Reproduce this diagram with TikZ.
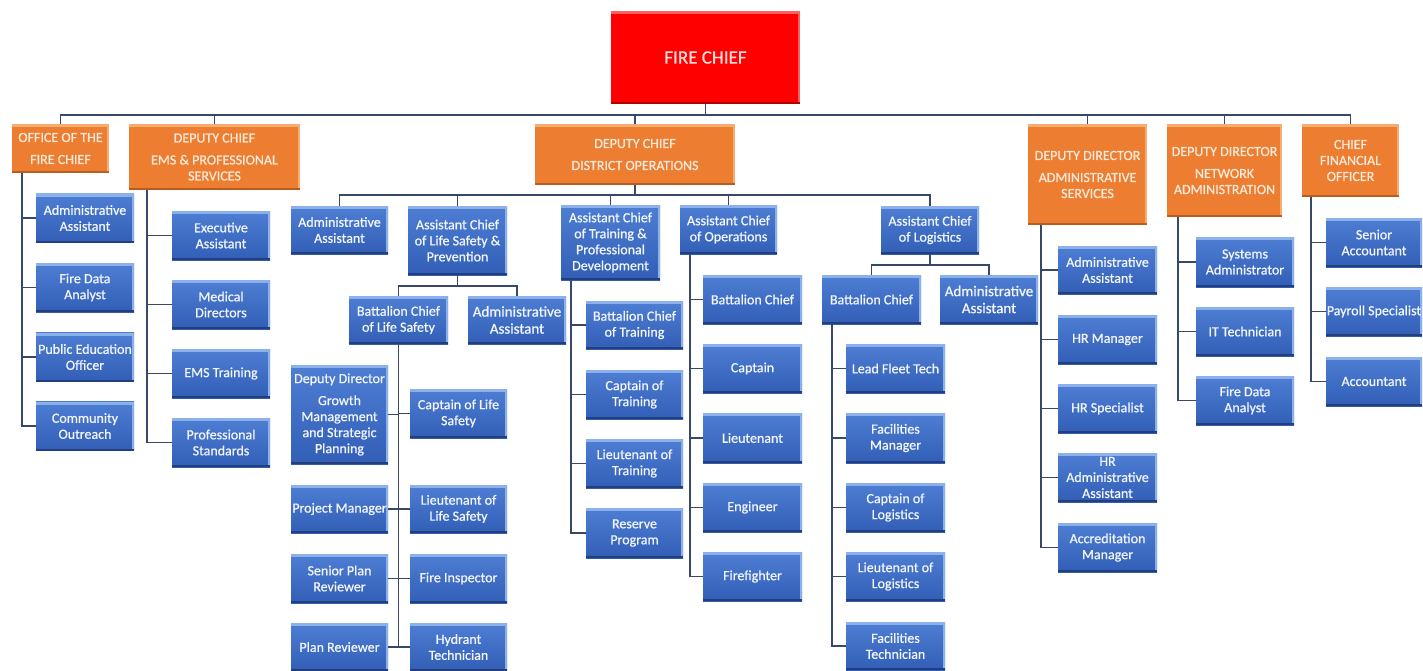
\documentclass[tikz,border=0pt]{standalone}
\usepackage{fontspec}
\setmainfont{Carlito}
\newfontfamily\boxfont{Carlito}[FakeBold=0.7]
\definecolor{lineC}{RGB}{55,72,105}
\definecolor{blTop}{RGB}{78,126,212}
\definecolor{blBot}{RGB}{50,94,182}
\definecolor{blHi}{RGB}{140,176,234}
\definecolor{blDk}{RGB}{34,62,124}
\definecolor{blT}{RGB}{242,246,252}
\definecolor{orF}{RGB}{237,125,49}
\definecolor{orHi}{RGB}{247,172,112}
\definecolor{orDk}{RGB}{186,92,30}
\definecolor{orT}{RGB}{253,234,218}
\definecolor{rdF}{RGB}{255,0,0}
\definecolor{rdHi}{RGB}{255,96,96}
\definecolor{rdDk}{RGB}{176,0,0}
\definecolor{rdT}{RGB}{255,222,222}
\begin{document}
\begin{tikzpicture}[x=1pt,y=-1pt,
  ln/.style={draw=lineC, line width=1.6pt},
  bevel/.style 2 args={path picture={
    \fill[#1] (path picture bounding box.north west) rectangle ([yshift=-3pt]path picture bounding box.north east);
    \fill[#1] ([xshift=-2pt]path picture bounding box.north east) rectangle (path picture bounding box.south east);
    \fill[#2] ([yshift=2pt]path picture bounding box.south west) rectangle (path picture bounding box.south east);
  }},
  sz/.style 2 args={minimum width=#1pt, minimum height=#2pt},
  redbox/.style={rectangle, fill=rdF, bevel={rdHi}{rdDk}, text=rdT, align=center,
    inner sep=0pt, font=\boxfont\fontsize{19}{22}\selectfont},
  orbox/.style={rectangle, fill=orF, bevel={orHi}{orDk}, text=orT, align=center,
    inner sep=0pt, font=\boxfont\fontsize{14}{16}\selectfont},
  bluebox/.style={rectangle, top color=blTop, bottom color=blBot, bevel={blHi}{blDk},
    text=blT, align=center, inner sep=0pt, minimum width=98pt, minimum height=49pt,
    font=\boxfont\fontsize{14}{16}\selectfont},
  bigtext/.style={font=\boxfont\fontsize{15}{17}\selectfont}
]
\useasboundingbox (0,0) rectangle (1423,671);
\fill[white] (0,0) rectangle (1423,671);

% ---- top level
\node[redbox, sz={189}{93}] (fc) at (705.5,57.5) {FIRE CHIEF};

% ---- directors
\node[orbox, sz={97}{49}]  (ofc)  at (60.5,148.5)  {OFFICE OF THE\\[6pt]FIRE CHIEF};
\node[orbox, sz={171}{66}] (ems)  at (214.5,157)   {DEPUTY CHIEF\\[6pt]EMS \& PROFESSIONAL\\SERVICES};
\node[orbox, sz={200}{61}] (dops) at (635,154.5)   {DEPUTY CHIEF\\[6pt]DISTRICT OPERATIONS};
\node[orbox, sz={119}{101}](das)  at (1087.5,174.5){DEPUTY DIRECTOR\\[6pt]ADMINISTRATIVE\\SERVICES};
\node[orbox, sz={115}{93}] (dna)  at (1224.5,170.5){DEPUTY DIRECTOR\\[6pt]NETWORK\\ADMINISTRATION};
\node[orbox, sz={97}{73}]  (cfo)  at (1350.5,160.5){CHIEF\\FINANCIAL\\OFFICER};

% ---- office of the fire chief
\node[bluebox] (oaa)  at (85,218)   {Administrative\\Assistant};
\node[bluebox] (ofda) at (85,287.5) {Fire Data\\Analyst};
\node[bluebox] (opeo) at (85,357)   {Public Education\\Officer};
\node[bluebox] (oco)  at (85,426)   {Community\\Outreach};

% ---- EMS & professional services
\node[bluebox] (eea) at (221,235.5) {Executive\\Assistant};
\node[bluebox] (emd) at (221,304.5) {Medical\\Directors};
\node[bluebox] (eet) at (221,373.5) {EMS Training};
\node[bluebox] (eps) at (221,442.5) {Professional\\Standards};

% ---- district operations, first row
\node[bluebox, sz={97}{48}] (daa) at (339.5,230)   {Administrative\\Assistant};
\node[bluebox, sz={99}{69}] (dls) at (457.5,240.5) {Assistant Chief\\of Life Safety \&\\Prevention};
\node[bluebox, sz={99}{75}] (dtr) at (610.5,242.5) {Assistant Chief\\of Training \&\\Professional\\Development};
\node[bluebox, sz={97}{49}] (dop) at (728.5,229.5) {Assistant Chief\\of Operations};
\node[bluebox, sz={98}{48}] (dlg) at (930,230)     {Assistant Chief\\of Logistics};

% ---- life safety & prevention
\node[bluebox, sz={99}{48}] (bcls) at (398.5,320) {Battalion Chief\\of Life Safety};
\node[bluebox, sz={98}{48}, bigtext] (lsaa) at (517,320) {Administrative\\Assistant};
\node[bluebox, sz={97}{99}] (ddg) at (339.5,414.5) {Deputy Director\\[6pt]Growth\\Management\\and Strategic\\Planning};
\node[bluebox, sz={97}{49}] (cls) at (458.5,413.5) {Captain of Life\\Safety};
\node[bluebox, sz={97}{48}] (pm)  at (339.5,509)   {Project Manager};
\node[bluebox, sz={97}{48}] (lls) at (458.5,509)   {Lieutenant of\\Life Safety};
\node[bluebox, sz={97}{49}] (spr) at (339.5,578.5) {Senior Plan\\Reviewer};
\node[bluebox, sz={97}{49}] (fi)  at (458.5,578.5) {Fire Inspector};
\node[bluebox, sz={97}{48}] (pr)  at (339.5,647)   {Plan Reviewer};
\node[bluebox, sz={97}{48}] (ht)  at (458.5,647)   {Hydrant\\Technician};

% ---- training & professional development
\node[bluebox, sz={97}{48}] (bct) at (634.5,325)   {Battalion Chief\\of Training};
\node[bluebox, sz={97}{49}] (ctr) at (634.5,394.5) {Captain of\\Training};
\node[bluebox, sz={97}{49}] (ltr) at (634.5,463.5) {Lieutenant of\\Training};
\node[bluebox, sz={97}{50}] (rp)  at (634.5,533)   {Reserve\\Program};

% ---- operations
\node[bluebox, sz={99}{49}] (obc)  at (752.5,299.5) {Battalion Chief};
\node[bluebox, sz={99}{49}] (ocap) at (752.5,368.5) {Captain};
\node[bluebox, sz={99}{50}] (olt)  at (752.5,438)   {Lieutenant};
\node[bluebox, sz={99}{49}] (oeng) at (752.5,507.5) {Engineer};
\node[bluebox, sz={99}{49}] (off)  at (752.5,576.5) {Firefighter};

% ---- logistics
\node[bluebox, sz={99}{49}] (lbc) at (871.5,299.5) {Battalion Chief};
\node[bluebox, sz={98}{49}, bigtext] (laa) at (989,299.5) {Administrative\\Assistant};
\node[bluebox, sz={99}{49}] (lfl) at (895.5,368.5) {Lead Fleet Tech};
\node[bluebox, sz={99}{50}] (lfm) at (895.5,438)   {Facilities\\Manager};
\node[bluebox, sz={99}{49}] (lcl) at (895.5,507.5) {Captain of\\Logistics};
\node[bluebox, sz={99}{49}] (lll) at (895.5,576.5) {Lieutenant of\\Logistics};
\node[bluebox, sz={99}{48}] (lft) at (895.5,646)   {Facilities\\Technician};

% ---- administrative services
\node[bluebox, sz={99}{48}] (aaa)  at (1107.5,270)   {Administrative\\Assistant};
\node[bluebox, sz={99}{49}] (ahm)  at (1107.5,339.5) {HR Manager};
\node[bluebox, sz={99}{49}] (ahs)  at (1107.5,408.5) {HR Specialist};
\node[bluebox, sz={99}{49}] (ahaa) at (1107.5,477.5) {HR\\Administrative\\Assistant};
\node[bluebox, sz={99}{49}] (aam)  at (1107.5,547.5) {Accreditation\\Manager};

% ---- network administration
\node[bluebox, sz={98}{50}] (nsa) at (1245,262)   {Systems\\Administrator};
\node[bluebox, sz={98}{49}] (nit) at (1245,331.5) {IT Technician};
\node[bluebox, sz={98}{49}] (nfd) at (1245,400.5) {Fire Data\\Analyst};

% ---- finance
\node[bluebox, sz={96}{49}] (fsa) at (1374,242.5) {Senior\\Accountant};
\node[bluebox, sz={96}{49}] (fps) at (1374,311.5) {Payroll Specialist};
\node[bluebox, sz={96}{49}] (fac) at (1374,381.5) {Accountant};

% ---- connectors
\foreach \n in {ofc,ems,dops,das,dna,cfo}
  \draw[ln] (fc.south) -- ++(0,11) -| (\n.north);
\foreach \n in {oaa,ofda,opeo,oco}
  \draw[ln] ([xshift=10pt]ofc.south west) |- (\n.west);
\foreach \n in {eea,emd,eet,eps}
  \draw[ln] ([xshift=18pt]ems.south west) |- (\n.west);
\foreach \n in {daa,dls,dtr,dop,dlg}
  \draw[ln] (dops.south) -- ++(0,10) -| (\n.north);
\foreach \n in {bcls,lsaa}
  \draw[ln] (dls.south) -- ++(0,11) -| (\n.north);
\foreach \n in {ddg,pm,spr,pr}
  \draw[ln] (bcls.south) |- (\n.east);
\foreach \n in {cls,lls,fi,ht}
  \draw[ln] (bcls.south) |- (\n.west);
\foreach \n in {bct,ctr,ltr,rp}
  \draw[ln] ([xshift=10pt]dtr.south west) |- (\n.west);
\foreach \n in {obc,ocap,olt,oeng,off}
  \draw[ln] ([xshift=10pt]dop.south west) |- (\n.west);
\foreach \n in {lbc,laa}
  \draw[ln] (dlg.south) -- ++(0,11) -| (\n.north);
\foreach \n in {lfl,lfm,lcl,lll,lft}
  \draw[ln] ([xshift=10pt]lbc.south west) |- (\n.west);
\foreach \n in {aaa,ahm,ahs,ahaa,aam}
  \draw[ln] ([xshift=13pt]das.south west) |- (\n.west);
\foreach \n in {nsa,nit,nfd}
  \draw[ln] ([xshift=11pt]dna.south west) |- (\n.west);
\foreach \n in {fsa,fps,fac}
  \draw[ln] ([xshift=9pt]cfo.south west) |- (\n.west);
\end{tikzpicture}
\end{document}
